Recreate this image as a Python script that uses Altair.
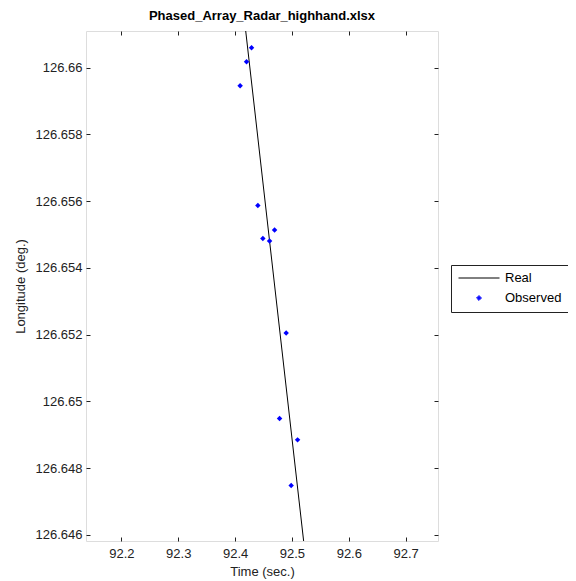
import altair as alt
import pandas as pd

# ---- data ----
time_obs = [92.4289, 92.4201, 92.4088, 92.4400, 92.4694, 92.4488, 92.4606,
            92.4898, 92.4782, 92.5099, 92.4986]
lon_obs = [126.66060, 126.66018, 126.65946, 126.65587, 126.65514, 126.65488,
           126.65481, 126.65205, 126.64949, 126.64885, 126.64748]
time_real = [92.406, 92.526]
lon_real = [126.663, 126.645]
series_names = ["Real", "Observed"]
x_ticks = [92.2, 92.3, 92.4, 92.5, 92.6, 92.7]
y_ticks = [126.646, 126.648, 126.65, 126.652, 126.654, 126.656, 126.658, 126.66]
x_domain = [92.1377, 92.7569]
y_domain = [126.64582, 126.6611]

real_df = pd.DataFrame({"t": time_real, "lon": lon_real, "series": "Real"})
obs_df = pd.DataFrame({"t": time_obs, "lon": lon_obs, "series": "Observed"})

FONT = "Liberation Sans"
AX = "#222222"

xs = alt.Scale(domain=x_domain, nice=False, zero=False)
ys = alt.Scale(domain=y_domain, nice=False, zero=False)

common = dict(tickSize=4, offset=-4, domain=False, grid=False, tickColor=AX,
              labelColor=AX, labelFont=FONT, labelFontSize=13, titleFont=FONT,
              titleFontSize=13, titleFontWeight="normal", titleColor=AX)

legend = alt.Legend(
    orient="none", legendX=365, legendY=234, padding=7,
    symbolSize=1681, symbolStrokeWidth=1, clipHeight=12, rowPadding=7,
    labelOffset=5, labelFont=FONT, labelFontSize=13, labelColor="black",
    strokeColor=AX, fillColor="white", symbolOffset=0, symbolOpacity=1,
)
diamond_path = ("M0,-0.12L0.12,0L0,0.12L-0.12,0Z"
                "M0,-0.06L0.06,0L0,0.06L-0.06,0Z"
                "M-0.1,0L0.1,0M0,-0.1L0,0.1")

line = alt.Chart(real_df).mark_line(color="black", strokeWidth=1, clip=True).encode(
    x=alt.X("t:Q", scale=xs, axis=alt.Axis(orient="bottom", values=x_ticks, format=".1f",
                                          title="Time (sec.)", labelPadding=6,
                                          titlePadding=5, **common)),
    y=alt.Y("lon:Q", scale=ys, axis=alt.Axis(orient="left", values=y_ticks, format=".6~g",
                                            title="Longitude (deg.)", labelPadding=4,
                                            titlePadding=8, **common)),
)

points = alt.Chart(obs_df).mark_point(shape="diamond", filled=True, size=30, opacity=1,
                                      color="blue", clip=True).encode(
    x=alt.X("t:Q", scale=xs, axis=alt.Axis(orient="top", values=x_ticks, labels=False,
                                          title=None, **common)),
    y=alt.Y("lon:Q", scale=ys, axis=alt.Axis(orient="right", values=y_ticks, labels=False,
                                            title=None, **common)),
)

# legend-driving layer: its marks fall outside the clipped plot area
key = alt.Chart(real_df).mark_point(filled=False, opacity=1, strokeWidth=1, clip=True).encode(
    x=alt.X("t:Q", scale=xs, axis=None),
    y=alt.Y("lon:Q", scale=ys, axis=None),
    color=alt.Color("series:N", title=None, legend=legend,
                    scale=alt.Scale(domain=series_names, range=["black", "blue"])),
    shape=alt.Shape("series:N", title=None, legend=legend,
                    scale=alt.Scale(domain=series_names, range=["stroke", diamond_path])),
)

chart = alt.layer(line, points, key).resolve_axis(x="independent", y="independent").properties(
    width=352, height=510,
    title=alt.TitleParams("Phased_Array_Radar_highhand.xlsx", font=FONT, fontSize=13,
                          fontWeight="bold", color="black", anchor="middle", offset=8),
    autosize=alt.AutoSizeParams(type="none"),
    padding={"left": 78, "top": 23, "right": 130, "bottom": 38},
).configure_view(stroke=AX, strokeWidth=1).configure(background="white")

chart.save("out.html", embed_options={"renderer": "svg", "actions": False})
